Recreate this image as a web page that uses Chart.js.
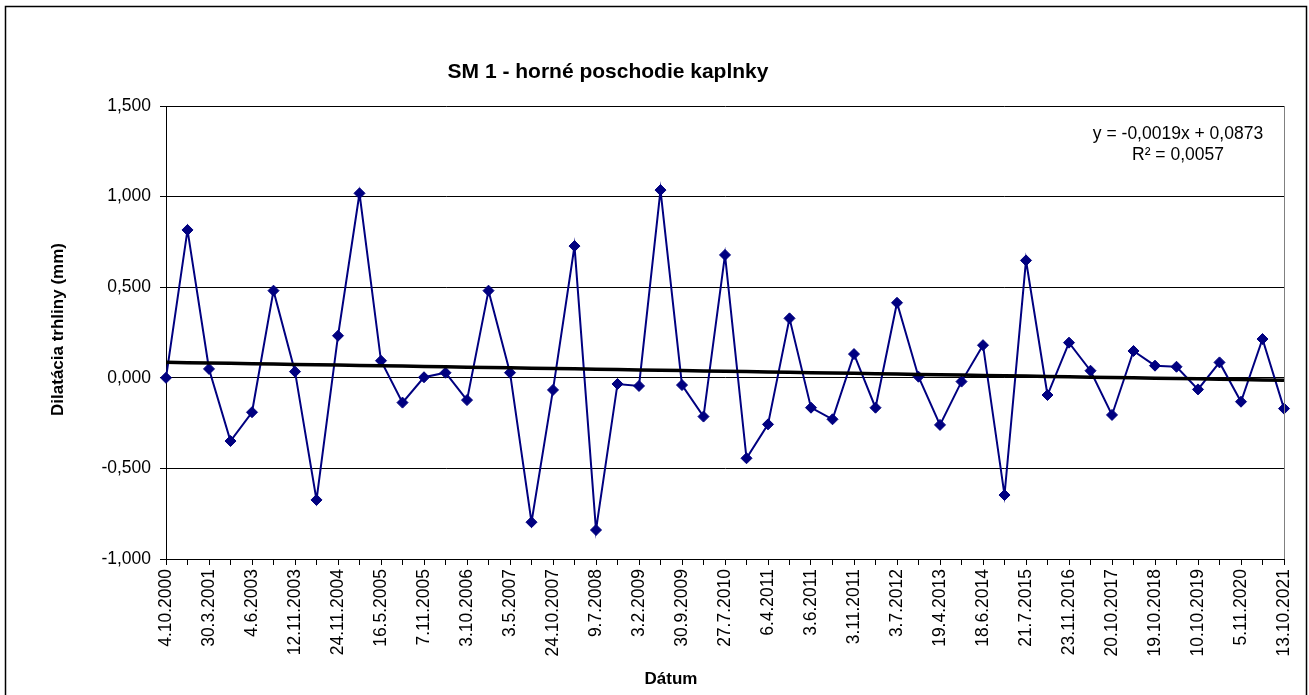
<!DOCTYPE html>
<html lang="sk">
<head>
<meta charset="utf-8">
<title>SM 1 - horné poschodie kaplnky</title>
<script src="https://cdn.jsdelivr.net/npm/chart.js@4/dist/chart.umd.min.js"></script>
<style>
  html, body { margin: 0; padding: 0; background: #fff; }
  #wrap { width: 1309px; height: 695px; }
</style>
</head>
<body>
<div id="wrap"><canvas id="smChart" width="1309" height="695"></canvas></div>
<script>
/* ============================================================
   SM 1 — dilatácia trhliny, horné poschodie kaplnky
   ============================================================ */

// dates shown under every second measurement
const tickDates = [
  '4.10.2000', '30.3.2001', '4.6.2003', '12.11.2003', '24.11.2004', '16.5.2005',
  '7.11.2005', '3.10.2006', '3.5.2007', '24.10.2007', '9.7.2008', '3.2.2009',
  '30.9.2009', '27.7.2010', '6.4.2011', '3.6.2011', '3.11.2011', '3.7.2012',
  '19.4.2013', '18.6.2014', '21.7.2015', '23.11.2016', '20.10.2017', '19.10.2018',
  '10.10.2019', '5.11.2020', '13.10.2021'
];

// crack dilatation per measurement (mm)
const dilatation = [
   0.000,  0.816,  0.049, -0.349, -0.190,  0.481,  0.034, -0.674,  0.232,  1.018,
   0.094, -0.137,  0.003,  0.028, -0.123,  0.481,  0.028, -0.797, -0.067,  0.727,
  -0.840, -0.034, -0.045,  1.036, -0.040, -0.214,  0.678, -0.444, -0.257,  0.328,
  -0.165, -0.229,  0.131, -0.165,  0.414,  0.006, -0.260, -0.021,  0.180, -0.647,
   0.648, -0.095,  0.194,  0.039, -0.205,  0.148,  0.067,  0.061, -0.064,  0.085,
  -0.132,  0.214, -0.170
];

// linear trend (Excel) and its labels
const trendSlope = -0.0019;
const trendIntercept = 0.0873;
const trendLabel = 'y = -0,0019x + 0,0873';
const r2Label = 'R² = 0,0057';

const yTicks = { min: -1, max: 1.5, step: 0.5 };

const chartTitle = 'SM 1 - horné poschodie kaplnky';
const yTitle = 'Dilatácia trhliny (mm)';
const xTitle = 'Dátum';

// ── Derived ───────────────────────────────────────────────────
const categories = dilatation.map((_, i) => (i % 2 === 0 ? tickDates[i / 2] : ''));
const trendValues = dilatation.map((_, i) => trendSlope * (i + 1) + trendIntercept);

const FONT = "'Liberation Sans', Arial, sans-serif";
const fmtComma = v => v.toFixed(3).replace('.', ',');

// ── Frame + texts drawn around the plot ───────────────────────
const decorPlugin = {
  id: 'decor',
  beforeDraw(chart) {
    const { ctx } = chart;
    ctx.save();
    ctx.fillStyle = '#fff';
    ctx.fillRect(0, 0, chart.width, chart.height);
    ctx.strokeStyle = '#000';
    ctx.lineWidth = 1.5;
    ctx.strokeRect(5.5, 6.5, 1301, 720);
    ctx.restore();
  },
  afterDraw(chart) {
    const { ctx, chartArea: a } = chart;
    ctx.save();

    // plot area right border
    ctx.strokeStyle = '#808080';
    ctx.lineWidth = 1;
    ctx.beginPath();
    ctx.moveTo(Math.round(a.right) + 0.5, a.top);
    ctx.lineTo(Math.round(a.right) + 0.5, a.bottom);
    ctx.stroke();

    ctx.fillStyle = '#000';
    ctx.textAlign = 'center';
    ctx.textBaseline = 'middle';

    ctx.font = 'bold 21px ' + FONT;
    ctx.fillText(chartTitle, 608, 72);

    ctx.font = 'bold 17px ' + FONT;
    ctx.fillText(xTitle, 671, 679);

    ctx.save();
    ctx.translate(58, (a.top + a.bottom) / 2 - 3);
    ctx.rotate(-Math.PI / 2);
    ctx.fillText(yTitle, 0, 0);
    ctx.restore();

    ctx.font = '17.5px ' + FONT;
    ctx.fillText(trendLabel, 1178, 134);
    ctx.fillText(r2Label, 1178, 155);

    ctx.restore();
  }
};

// ── Chart ─────────────────────────────────────────────────────
new Chart(document.getElementById('smChart'), {
  type: 'line',
  data: {
    labels: categories,
    datasets: [
      {
        label: 'Trend',
        data: trendValues,
        borderColor: '#000',
        borderWidth: 3.5,
        pointRadius: 0,
        tension: 0,
        order: 0
      },
      {
        label: 'SM 1',
        data: dilatation,
        borderColor: '#000080',
        backgroundColor: '#000080',
        borderWidth: 2,
        pointStyle: 'rectRot',
        pointRadius: 5.5,
        pointBorderWidth: 1,
        pointBackgroundColor: '#000080',
        pointBorderColor: '#000080',
        tension: 0,
        order: 1
      }
    ]
  },
  options: {
    responsive: false,
    animation: false,
    layout: { padding: { top: 106, right: 25, bottom: 0, left: 0 } },
    plugins: {
      legend: { display: false },
      title: { display: false },
      tooltip: { enabled: false }
    },
    scales: {
      x: {
        type: 'category',
        offset: false,
        grid: {
          offset: false,
          drawOnChartArea: false,
          drawTicks: true,
          tickLength: 6,
          color: '#000'
        },
        border: { display: true, color: '#000', width: 1 },
        ticks: {
          autoSkip: false,
          maxRotation: 90,
          minRotation: 90,
          padding: 4,
          color: '#000',
          font: { family: FONT, size: 17.5 }
        },
        afterFit(scale) { scale.height = 136; }
      },
      y: {
        min: yTicks.min,
        max: yTicks.max,
        grid: {
          color: '#000',
          lineWidth: 1,
          drawTicks: true,
          tickLength: 6
        },
        border: { display: true, color: '#000', width: 1 },
        ticks: {
          stepSize: yTicks.step,
          padding: 9,
          color: '#000',
          font: { family: FONT, size: 17.5 },
          callback: v => fmtComma(v)
        },
        afterFit(scale) { scale.width = 166; }
      }
    }
  },
  plugins: [decorPlugin]
});
</script>
</body>
</html>
